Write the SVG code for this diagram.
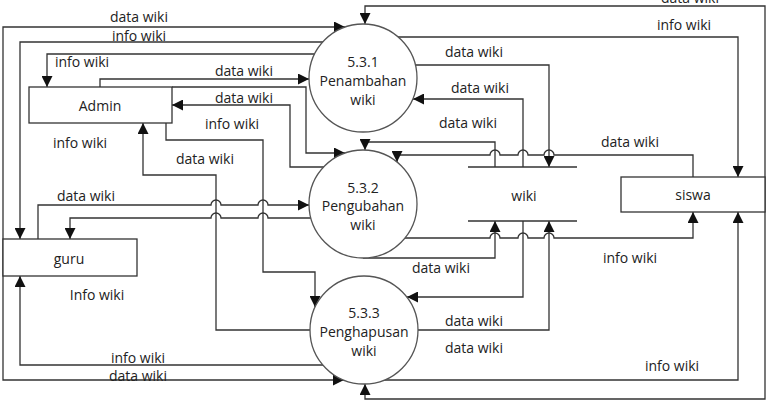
<svg xmlns="http://www.w3.org/2000/svg" width="769" height="402" viewBox="0 0 769 402">
<style>
text{font-family:"Open Sans","Liberation Sans",sans-serif;font-size:14px;fill:#222;text-anchor:middle;dominant-baseline:central}
.c{fill:#fff;stroke:#555;stroke-width:1.3}
.r{fill:#fff;stroke:#333;stroke-width:1.3}
.l{fill:none;stroke:#333;stroke-width:1.3}
.a{marker-end:url(#ah)}
.b{marker-start:url(#ah);marker-end:url(#ah)}
</style>
<defs>
<marker id="ah" markerUnits="userSpaceOnUse" markerWidth="11" markerHeight="11" refX="11" refY="5.5" orient="auto-start-reverse"><path d="M0,0 L11,5.5 L0,11 z" fill="#111"/></marker>
</defs>
<g id="connectors">
<path class="l b" d="M345 27 H3 V380 H344"/>
<path class="l a" d="M323 42 H20 V239"/>
<path class="l a" d="M315 54 H47 V87"/>
<path class="l a" d="M100 87 V79 H309"/>
<path class="l a" d="M324 167 H290 V105 H172"/>
<path class="l a" d="M172 87 H306 V153 H345"/>
<path class="l a" d="M166 123 V140 H263 V272 H315 V307"/>
<path class="l a" d="M310 330 H216 V175 H143 V123"/>
<path class="l a" d="M38 239 V205 H211 A5 5 0 0 1 221 205 H258 A5 5 0 0 1 268 205 H309"/>
<path class="l a" d="M311 218 H268 A5 5 0 0 0 258 218 H221 A5 5 0 0 0 211 218 H70 V239"/>
<path class="l a" d="M323 365 H20 V276"/>
<path class="l b" d="M365 384 V399 H765 V6 H365 V24"/>
<path class="l a" d="M398 37 H738 V177"/>
<path class="l a" d="M415 65 H549 V167"/>
<path class="l a" d="M523 167 V99 H413"/>
<path class="l a" d="M495 167 V142 H365 V150"/>
<path class="l a" d="M693 177 V155 H554 A5 5 0 0 0 544 155 H528 A5 5 0 0 0 518 155 H500 A5 5 0 0 0 490 155 H397 V162"/>
<path class="l a" d="M363 258 H495 V221"/>
<path class="l a" d="M405 238 H490 A5 5 0 0 1 500 238 H518 A5 5 0 0 1 528 238 H544 A5 5 0 0 1 554 238 H693 V212"/>
<path class="l a" d="M523 221 V297 H407"/>
<path class="l a" d="M418 330 H549 V221"/>
<path class="l a" d="M384 380 H738 V212"/>
</g>
<g id="labels">
<text x="139" y="16">data wiki</text>
<text x="139" y="35">info wiki</text>
<text x="82" y="61">info wiki</text>
<text x="244" y="70">data wiki</text>
<text x="244" y="97">data wiki</text>
<text x="232" y="123">info wiki</text>
<text x="80" y="142">info wiki</text>
<text x="205" y="158">data wiki</text>
<text x="86" y="195">data wiki</text>
<text x="97" y="294">Info wiki</text>
<text x="138" y="357">info wiki</text>
<text x="138" y="375">data wiki</text>
<text x="474" y="51">data wiki</text>
<text x="480" y="87">data wiki</text>
<text x="468" y="122">data wiki</text>
<text x="690" y="-3">data wiki</text>
<text x="684" y="24">info wiki</text>
<text x="630" y="141">data wiki</text>
<text x="630" y="257">info wiki</text>
<text x="441" y="267">data wiki</text>
<text x="474" y="320">data wiki</text>
<text x="474" y="347">data wiki</text>
<text x="672" y="365">info wiki</text>
</g>
<g id="p531">
<circle class="c" cx="363" cy="78" r="54"/>
<text x="363" y="61">5.3.1</text>
<text x="363" y="80">Penambahan</text>
<text x="363" y="99">wiki</text>
</g>
<g id="p532">
<circle class="c" cx="363" cy="204" r="54"/>
<text x="363" y="187">5.3.2</text>
<text x="363" y="205">Pengubahan</text>
<text x="363" y="224">wiki</text>
</g>
<g id="p533">
<circle class="c" cx="364" cy="330" r="54"/>
<text x="364" y="312">5.3.3</text>
<text x="364" y="331">Penghapusan</text>
<text x="364" y="350">wiki</text>
</g>
<g id="admin">
<rect class="r" x="29" y="87" width="143" height="36"/>
<text x="100" y="105">Admin</text>
</g>
<g id="guru">
<rect class="r" x="3" y="239" width="134" height="37"/>
<text x="69" y="258">guru</text>
</g>
<g id="siswa">
<rect class="r" x="621" y="177" width="144" height="35"/>
<text x="693" y="194">siswa</text>
</g>
<g id="wiki">
<path class="l" d="M468 167 H577 M468 221 H577"/>
<text x="524" y="195">wiki</text>
</g>
</svg>
